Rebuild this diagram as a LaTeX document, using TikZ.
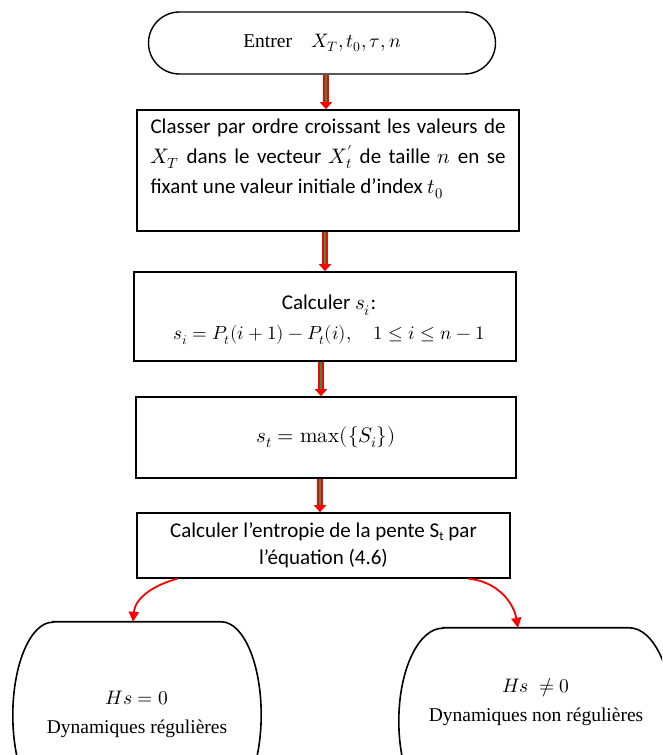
\documentclass[tikz,border=0pt]{standalone}
\usepackage{fontspec}
\usepackage{unicode-math}
\setmainfont{Carlito}
\setmathfont{Latin Modern Math}
\newfontfamily\timesf{Liberation Serif}
\usetikzlibrary{arrows.meta,shapes.misc}
\definecolor{arrowgreen}{RGB}{40,150,60}
\begin{document}
\begin{tikzpicture}[x=1pt,y=1pt,
  box/.style={draw, line width=1.6pt, inner sep=0pt},
  txt/.style={font=\fontsize{21}{30}\selectfont, inner sep=0pt},
  serif/.style={font=\timesf\fontsize{19.5}{29}\selectfont, inner sep=0pt, align=center},
  shaftred/.style={draw=red, line width=5.5pt, -{Triangle[length=7pt,width=12pt]}},
  shaftgreen/.style={draw=arrowgreen, line width=2.2pt, shorten >=7pt},
  branch/.style={draw=red, line width=1.8pt, -{Triangle[length=10pt,width=10pt]}},
  termline/.style={draw, line width=1.6pt}
]
\useasboundingbox (0,0) rectangle (662,755);
\clip (0,0) rectangle (662,755);

% input terminator
\node[draw, line width=1.4pt, rounded rectangle, minimum width=347, minimum height=62,
      inner sep=0pt, font=\timesf\fontsize{19.5}{23}\selectfont] (start) at (322,712)
      {Entrer\quad $X_T, t_0, \tau, n$};

% sorting step
\node[box, minimum width=382, minimum height=121] (classer) at (328,584.5) {};
\node[txt, text width=355, align=justify, anchor=north] (classertxt) at (328,636)
  {Classer par ordre croissant les valeurs de\linebreak
   $X_T$ dans le vecteur $X_t^{\prime}$ de taille $n$ en se\linebreak
   fixant une valeur initiale d’index $t_0$};

% slopes
\node[box, minimum width=382, minimum height=89] (calc) at (325,438.5) {};
\node[txt, align=center] (calctxt) at (329,435)
  {Calculer $s_i$:\\ {\fontsize{19}{30}\selectfont $s_i = P_t(i+1) - P_t(i),\quad 1 \le i \le n-1$}};

% maximum slope
\node[box, minimum width=380, minimum height=81, txt] (smax) at (326,317.5)
  {$s_t = \symup{max}(\{S_i\})$};

% entropy
\node[box, minimum width=373, minimum height=65, txt, align=center, font=\fontsize{21}{27}\selectfont] (ent) at (323.5,209.5)
  {Calculer l’entropie de la pente S\raisebox{-2.5pt}{\fontsize{13}{13}\selectfont t} par\\ l’équation (4.6)};

% outcome terminators
\node[minimum width=248, minimum height=186, inner sep=0pt] (L) at (137,40) {};
\node[serif] (Ltxt) at (137,41) {$Hs = 0$\\ Dynamiques régulières};
\draw[termline] ([xshift=40]L.north west) -- ([xshift=-40]L.north east)
  arc[start angle=90, end angle=-90, x radius=40, y radius=93]
  -- ([xshift=40]L.south west)
  arc[start angle=270, end angle=90, x radius=40, y radius=93] -- cycle;

\node[minimum width=274, minimum height=186, inner sep=0pt] (R) at (536,34) {};
\node[serif] (Rtxt) at (536,53) {$Hs\ \neq 0$\\ Dynamiques non régulières};
\draw[termline] ([xshift=44]R.north west) -- ([xshift=-44]R.north east)
  arc[start angle=90, end angle=-90, x radius=44, y radius=93]
  -- ([xshift=44]R.south west)
  arc[start angle=270, end angle=90, x radius=44, y radius=93] -- cycle;

% main flow arrows
\path[shaftred] ([xshift=4]start.south) -- ([xshift=-2]classer.north);
\path[shaftgreen] ([xshift=4]start.south) -- ([xshift=-2]classer.north);
\path[shaftred] ([xshift=-3]classer.south) -- (calc.north);
\path[shaftgreen] ([xshift=-3]classer.south) -- (calc.north);
\path[shaftred] ([xshift=-4]calc.south) -- ([xshift=-5]smax.north);
\path[shaftgreen] ([xshift=-4]calc.south) -- ([xshift=-5]smax.north);
\path[shaftred] ([xshift=-6]smax.south) -- ([xshift=-3.5]ent.north);
\path[shaftgreen] ([xshift=-6]smax.south) -- ([xshift=-3.5]ent.north);

% branches
\path[branch] ([xshift=41]ent.south west) to[out=195, in=85] ([xshift=-4]L.north);
\path[branch] ([xshift=-42]ent.south east) to[out=-5, in=100] ([xshift=-18]R.north);
\end{tikzpicture}
\end{document}
